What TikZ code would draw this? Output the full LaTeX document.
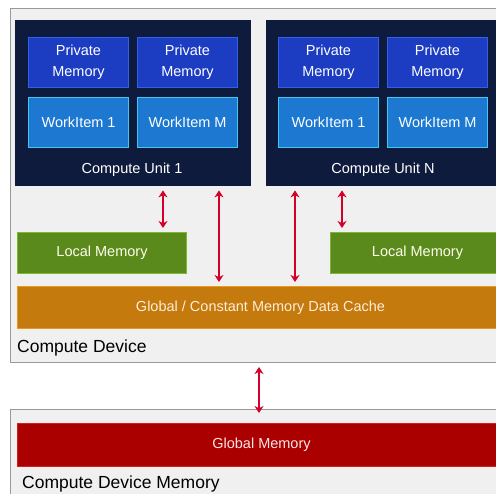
\documentclass[tikz,border=0pt]{standalone}
\usepackage{fontspec}
\setmainfont{Liberation Sans}
\usetikzlibrary{arrows.meta}

\definecolor{cunavy}{HTML}{0E1B3D}
\definecolor{pmfill}{HTML}{1C3CC2}
\definecolor{pmedge}{HTML}{3060F0}
\definecolor{wifill}{HTML}{1C78D0}
\definecolor{wiedge}{HTML}{40C8F0}
\definecolor{lmfill}{HTML}{5A8A1C}
\definecolor{lmedge}{HTML}{7CB82E}
\definecolor{gcfill}{HTML}{C47A0C}
\definecolor{gcedge}{HTML}{E89A20}
\definecolor{gmfill}{HTML}{AA0000}
\definecolor{gmedge}{HTML}{D02020}
\definecolor{arrred}{HTML}{D4002A}
\definecolor{framebg}{HTML}{F0F0F0}

\tikzset{
  blk/.style={anchor=north west, inner sep=0pt, align=center,
    font=\fontsize{14.5}{21}\selectfont},
  frame/.style={blk, draw=gray!80, line width=1pt, fill=framebg},
  cunit/.style={blk, fill=cunavy},
  pmem/.style={blk, fill=pmfill, draw=pmedge, line width=1pt, text=white,
    minimum width=100, minimum height=50},
  witem/.style={blk, fill=wifill, draw=wiedge, line width=1.2pt, text=white,
    minimum width=100, minimum height=50},
  lmem/.style={blk, fill=lmfill, draw=lmedge, line width=1pt, text=yellow!8,
    minimum height=41},
  cache/.style={blk, fill=gcfill, draw=gcedge, line width=1pt, text=orange!15,
    minimum height=42},
  gmem/.style={blk, fill=gmfill, draw=gmedge, line width=1pt, text=red!10,
    minimum height=43},
  unitlab/.style={text=white, font=\fontsize{14.5}{18}\selectfont},
  devlab/.style={anchor=west, inner sep=0pt, font=\fontsize{17.5}{20}\selectfont},
  link/.style={{Stealth[length=7pt,width=9pt]}-{Stealth[length=7pt,width=9pt]},
    draw=arrred, line width=2.6pt, shorten <=4pt, shorten >=4pt}
}

\begin{document}
\begin{tikzpicture}[x=1pt, y=-1pt]
    \useasboundingbox (0,0) rectangle (496,494);
    \clip (0,0) rectangle (496,494);
    \fill[white] (0,0) rectangle (496,494);

    % compute device
    \node[frame, minimum width=510, minimum height=354] (dev) at (10,8) {};
    \node[cunit, minimum width=236, minimum height=166] (cu1) at (15,20) {};
    \node[cunit, minimum width=240, minimum height=166] (cun) at (266,20) {};

    \node[pmem] (pm11) at (28,37) {Private\\Memory};
    \node[pmem] (pm1m) at (137,37) {Private\\Memory};
    \node[witem] (wi11) at (28,97) {WorkItem 1};
    \node[witem] (wi1m) at (137,97) {WorkItem M};
    \node[unitlab] (cu1lab) at (132,170) {Compute Unit 1};

    \node[pmem] (pmn1) at (278,37) {Private\\Memory};
    \node[pmem] (pmnm) at (387,37) {Private\\Memory};
    \node[witem] (win1) at (278,97) {WorkItem 1};
    \node[witem] (winm) at (387,97) {WorkItem M};
    \node[unitlab] (cunlab) at (383,170) {Compute Unit N};

    \node[lmem, minimum width=169] (lm1) at (17,232) {Local Memory};
    \node[lmem, minimum width=174] (lmn) at (330,232) {Local Memory};
    \node[cache, minimum width=486] (gc) at (17,286) {Global / Constant Memory Data Cache};
    \node[devlab] (devlab) at (17,348) {Compute Device};

    % device memory
    \node[frame, minimum width=510, minimum height=100] (mem) at (10,409) {};
    \node[gmem, minimum width=488] (gm) at (17,423) {Global Memory};
    \node[devlab] (memlab) at (22,484) {Compute Device Memory};

    % links
    \draw[link] (cu1.south -| 163,0) -- (lm1.north -| 163,0);
    \draw[link] (cu1.south -| 219,0) -- (gc.north -| 219,0);
    \draw[link] (cun.south -| 295,0) -- (gc.north -| 295,0);
    \draw[link] (cun.south -| 342,0) -- (lmn.north -| 342,0);
    \draw[link, shorten >=-4pt] (dev.south -| 259,0) -- (mem.north -| 259,0);
\end{tikzpicture}
\end{document}
